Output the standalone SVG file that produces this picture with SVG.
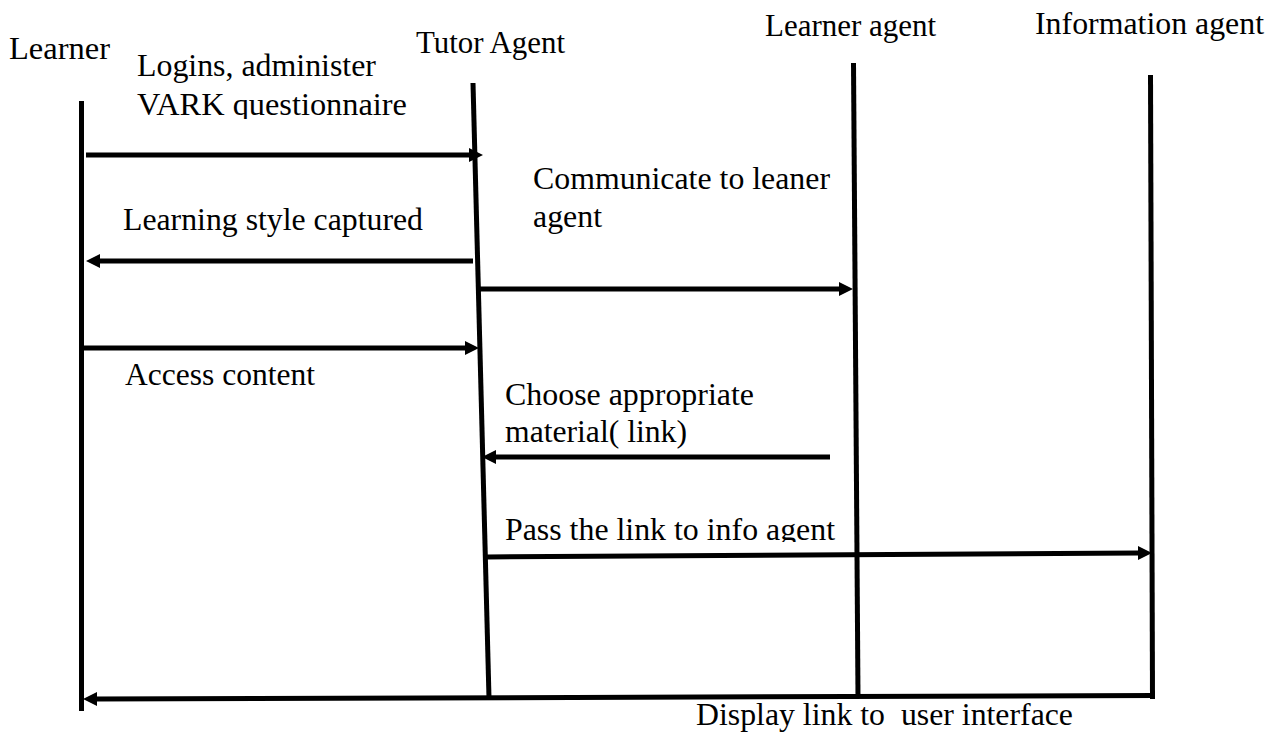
<svg xmlns="http://www.w3.org/2000/svg" width="1282" height="734" viewBox="0 0 1282 734">
  <style>
    .life { stroke: #000; stroke-width: 5; fill: none; }
    .msg { stroke: #000; stroke-width: 5; fill: none; }
    .head { fill: #000; stroke: none; }
    text { font-family: "Liberation Serif", "Times New Roman", serif; font-size: 31px; fill: #000; }
  </style>
  <defs>
    <clipPath id="clip-pass"><rect x="480" y="490" width="400" height="52"/></clipPath>
    <clipPath id="clip-vark"><rect x="120" y="80" width="320" height="39"/></clipPath>
  </defs>
  <rect width="1282" height="734" fill="#fff"/>

  <!-- participants with lifelines -->
  <g id="learner">
    <text x="9" y="59" textLength="101" lengthAdjust="spacingAndGlyphs">Learner</text>
    <line class="life" x1="81.5" y1="101" x2="81.5" y2="711"/>
  </g>
  <g id="tutor-agent">
    <text x="416" y="53" textLength="149" lengthAdjust="spacingAndGlyphs">Tutor Agent</text>
    <line class="life" x1="473" y1="83" x2="489" y2="698"/>
  </g>
  <g id="learner-agent">
    <text x="765" y="36" textLength="171" lengthAdjust="spacingAndGlyphs">Learner agent</text>
    <line class="life" x1="853.5" y1="63" x2="858" y2="696"/>
  </g>
  <g id="information-agent">
    <text x="1035" y="34" textLength="229" lengthAdjust="spacingAndGlyphs">Information agent</text>
    <line class="life" x1="1150.5" y1="75" x2="1152.5" y2="699"/>
  </g>

  <!-- messages -->
  <g id="connectors">
    <!-- 1: Learner -> Tutor -->
    <line class="msg" x1="86" y1="155" x2="470" y2="155"/>
    <polygon class="head" points="483,155 469,148 469,162"/>
    <!-- 2: Tutor -> Learner -->
    <line class="msg" x1="473" y1="261" x2="98" y2="261"/>
    <polygon class="head" points="86,261 100,254 100,268"/>
    <!-- 3: Tutor -> Learner agent -->
    <line class="msg" x1="480" y1="289" x2="840" y2="289"/>
    <polygon class="head" points="853,289 839,282 839,296"/>
    <!-- 4: Learner -> Tutor -->
    <line class="msg" x1="84" y1="348" x2="466" y2="348"/>
    <polygon class="head" points="479,348 465,341 465,355"/>
    <!-- 5: Learner agent -> Tutor -->
    <line class="msg" x1="830" y1="457" x2="494" y2="457"/>
    <polygon class="head" points="482,457 496,450 496,464"/>
    <!-- 6: Tutor -> Information agent -->
    <line class="msg" x1="487" y1="557" x2="1139" y2="553"/>
    <polygon class="head" points="1152,553 1138,546 1138,560"/>
    <!-- 7: Information agent -> Learner -->
    <line class="msg" x1="1155" y1="695.5" x2="95" y2="699"/>
    <polygon class="head" points="83,699 97,692 97,706"/>
  </g>

  <!-- message labels -->
  <g id="labels">
    <text x="137" y="76" textLength="239" lengthAdjust="spacingAndGlyphs">Logins, administer</text>
    <g clip-path="url(#clip-vark)">
      <text x="137" y="115" textLength="270" lengthAdjust="spacingAndGlyphs">VARK questionnaire</text>
    </g>
    <text x="123" y="230" textLength="300" lengthAdjust="spacingAndGlyphs">Learning style captured</text>
    <text x="533" y="189" textLength="297" lengthAdjust="spacingAndGlyphs">Communicate to leaner</text>
    <text x="533" y="227" textLength="69" lengthAdjust="spacingAndGlyphs">agent</text>
    <text x="125" y="385" textLength="190" lengthAdjust="spacingAndGlyphs">Access content</text>
    <text x="505" y="405" textLength="249" lengthAdjust="spacingAndGlyphs">Choose appropriate</text>
    <text x="505" y="442" textLength="182" lengthAdjust="spacingAndGlyphs">material( link)</text>
    <g clip-path="url(#clip-pass)">
      <text x="505" y="540" textLength="330" lengthAdjust="spacingAndGlyphs">Pass the link to info agent</text>
    </g>
    <text x="696" y="725" font-size="30" xml:space="preserve" textLength="377" lengthAdjust="spacingAndGlyphs">Display link to  user interface</text>
  </g>
</svg>
